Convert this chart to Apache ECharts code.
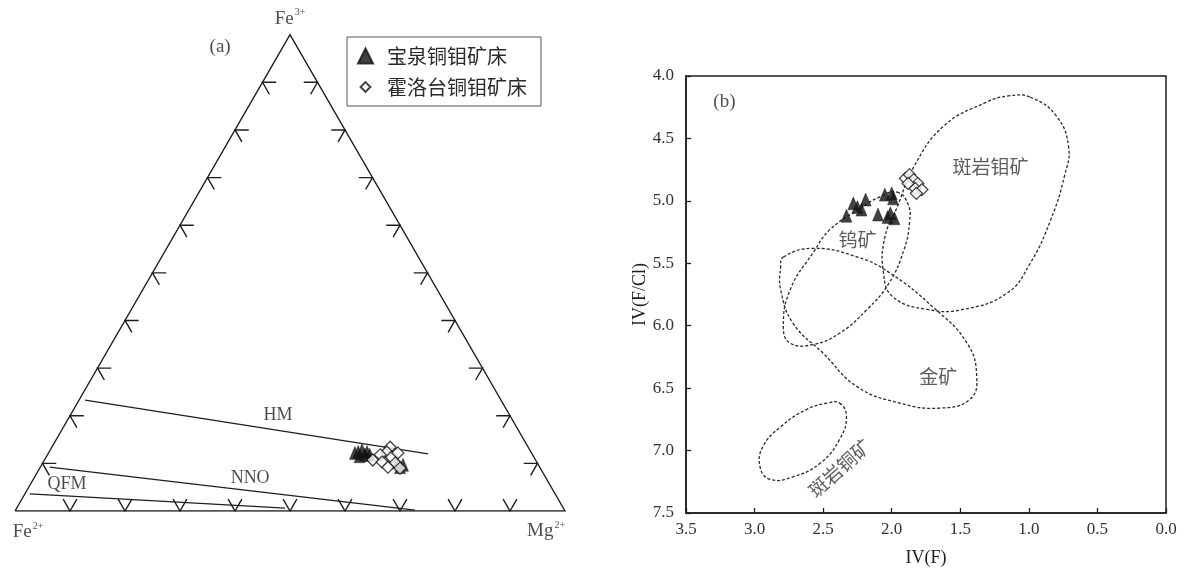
<!DOCTYPE html>
<html>
<head>
<meta charset="utf-8">
<script src="https://cdn.jsdelivr.net/npm/echarts@6/dist/echarts.min.js"></script>
<style>
  html, body { margin: 0; padding: 0; background: #ffffff; }
  #chart { width: 1190px; height: 574px; }
</style>
</head>
<body>
<div id="chart"></div>
<script>
// ---------- Panel (a): Fe3+ - Fe2+ - Mg2+ ternary (values in percent) ----------
const seriesNames = ['宝泉铜钼矿床', '霍洛台铜钼矿床'];

// [Fe3+, Fe2+, Mg2+]
const baoquanTernary = [
  [12.2, 32.1, 55.7], [12.4, 31.4, 56.2], [12.8, 30.5, 56.7], [12.4, 29.8, 57.8],
  [11.8, 30.5, 57.7], [11.8, 29.6, 58.6], [11.5, 31.6, 56.9], [10.3, 25.4, 64.3],
  [9.7, 24.6, 65.7], [9.2, 25.4, 65.4]
];
const huoluotaiTernary = [
  [13.4, 25.1, 61.5], [12.4, 26.2, 61.4], [11.8, 27.7, 60.5], [10.7, 29.6, 59.7],
  [10.3, 28.1, 61.6], [11.3, 25.9, 62.8], [12.2, 24.3, 63.5], [10.1, 25.8, 64.1],
  [9.0, 25.5, 65.5], [9.2, 27.6, 63.2]
];

// oxygen buffer lines, end points [Fe3+, Fe2+, Mg2+]
const bufferNames = ['HM', 'NNO', 'QFM'];
const bufferLines = [
  [[23.3, 75.6, 1.1], [12.0, 18.9, 69.1]],
  [[9.2, 89.1, 1.7], [0.2, 27.2, 72.6]],
  [[3.6, 95.5, 0.9], [0.6, 50.6, 48.8]]
];
const bufferLabelAt = [[20.0, 42.2, 37.8], [6.9, 53.8, 39.3], [5.7, 87.7, 6.6]];

// tick positions along each edge (percent)
const edgeTicks = [10, 20, 30, 40, 50, 60, 70, 80, 90];

// ---------- Panel (b): IV(F) vs IV(F/Cl) ----------
// [IV(F), IV(F/Cl)]
const baoquanIV = [
  [2.33, 5.12], [2.28, 5.02], [2.25, 5.05], [2.19, 4.99], [2.22, 5.07], [2.05, 4.95],
  [2.00, 4.94], [1.99, 4.98], [2.10, 5.11], [2.03, 5.13], [1.98, 5.14], [2.01, 5.10]
];
const huoluotaiIV = [
  [1.90, 4.82], [1.87, 4.79], [1.84, 4.83], [1.81, 4.86], [1.83, 4.90],
  [1.78, 4.91], [1.88, 4.86], [1.82, 4.94]
];

// ore-type fields, boundary points [IV(F), IV(F/Cl)]
const fieldPorphyryMo = [
  [0.99, 4.17], [0.80, 4.32], [0.71, 4.57], [0.74, 4.80], [0.84, 5.15], [0.99, 5.50],
  [1.16, 5.74], [1.48, 5.87], [1.74, 5.87], [1.99, 5.77], [2.06, 5.58], [2.05, 5.29],
  [1.96, 5.05], [1.84, 4.73], [1.62, 4.40], [1.31, 4.21], [1.15, 4.16]
];
const fieldTungsten = [
  [1.96, 4.93], [1.88, 5.03], [1.87, 5.17], [1.91, 5.39], [2.02, 5.66], [2.18, 5.87],
  [2.38, 6.06], [2.57, 6.15], [2.74, 6.14], [2.79, 6.01], [2.74, 5.71], [2.57, 5.41],
  [2.45, 5.23], [2.23, 5.06], [2.09, 4.97]
];
const fieldGold = [
  [2.79, 5.45], [2.57, 5.38], [2.25, 5.45], [2.01, 5.58], [1.70, 5.85], [1.45, 6.14],
  [1.38, 6.41], [1.43, 6.59], [1.65, 6.66], [1.94, 6.62], [2.25, 6.49], [2.50, 6.22],
  [2.72, 5.98], [2.81, 5.71], [2.81, 5.53]
];
const fieldPorphyryCu = [
  [2.38, 6.62], [2.33, 6.73], [2.38, 6.91], [2.52, 7.10], [2.72, 7.21], [2.89, 7.23],
  [2.96, 7.13], [2.94, 6.97], [2.81, 6.81], [2.62, 6.67], [2.47, 6.62]
];
const fieldNames = ['斑岩钼矿', '钨矿', '金矿', '斑岩铜矿'];
const fieldLabelAt = [[1.28, 4.73], [2.25, 5.31], [1.66, 6.41], [2.38, 7.14]];

const xTicksB = ['3.5', '3.0', '2.5', '2.0', '1.5', '1.0', '0.5', '0.0'];
const yTicksB = ['4.0', '4.5', '5.0', '5.5', '6.0', '6.5', '7.0', '7.5'];

// ---------- helpers ----------
const SQ3 = Math.sqrt(3) / 2;
function tern(c) {
  const s = c[0] + c[1] + c[2];
  const a = c[0] / s, m = c[2] / s;
  return [m + a / 2, a * SQ3];
}
const INK = '#1e1e1e';
const SERIF = "'Liberation Serif', 'Times New Roman', 'Noto Sans CJK SC', serif";
const CJK = "'Noto Sans CJK SC', 'Liberation Serif', sans-serif";

// edge ticks, each a small two-armed mark pointing into the triangle
const ARM = 0.025;
const tickSegments = [];
edgeTicks.forEach(function (p) {
  const t = p / 100;
  // bottom edge
  let P = [t, 0];
  tickSegments.push([[P[0] - ARM * 0.5, ARM * SQ3], P, [P[0] + ARM * 0.5, ARM * SQ3]]);
  // left edge
  P = [t / 2, t * SQ3];
  tickSegments.push([[P[0] + ARM, P[1]], P, [P[0] + ARM * 0.5, P[1] - ARM * SQ3]]);
  // right edge
  P = [1 - t / 2, t * SQ3];
  tickSegments.push([[P[0] - ARM, P[1]], P, [P[0] - ARM * 0.5, P[1] - ARM * SQ3]]);
});

const triangleFrame = [[0, 0], [1, 0], [0.5, SQ3], [0, 0]];

function fieldSeries(pts) {
  return {
    type: 'custom', xAxisIndex: 1, yAxisIndex: 1, silent: true, z: 1,
    data: [pts[0]],
    renderItem: function (params, api) {
      return {
        type: 'polygon',
        shape: { points: pts.map(function (p) { return api.coord(p); }), smooth: 0.45 },
        style: { fill: 'none', stroke: '#2a2a2a', lineWidth: 1.3, lineDash: [3, 2] }
      };
    }
  };
}

const vertexRich = {
  b: { fontFamily: SERIF, fontSize: 19, color: INK },
  s: { fontFamily: SERIF, fontSize: 10, color: INK, verticalAlign: 'top', lineHeight: 22, padding: [0, 0, 0, 1] }
};

const chart = echarts.init(document.getElementById('chart'), null, { renderer: 'canvas' });

const axisLineStyle = { show: true, onZero: false, lineStyle: { color: INK, width: 1.5 } };
const axisTickStyle = { show: true, inside: true, length: 5, lineStyle: { color: INK, width: 1.3 } };

const option = {
  backgroundColor: '#ffffff',
  animation: false,
  legend: {
    left: 347, top: 37,
    orient: 'vertical',
    data: [
      { name: seriesNames[0], icon: 'triangle' },
      { name: seriesNames[1], icon: 'path://M0,0M20,20M10,3.5L16.5,10L10,16.5L3.5,10Z' }
    ],
    itemWidth: 15, itemHeight: 15, itemGap: 11,
    padding: [9, 14, 9, 10],
    borderColor: '#555', borderWidth: 1,
    textStyle: { fontFamily: CJK, fontSize: 20, color: '#2a2a2a', padding: [0, 0, 0, 9] }
  },
  grid: [
    { left: 15, width: 550, top: 27, height: 484, show: false },
    { left: 686, top: 76, right: 24, bottom: 61, show: true, borderColor: INK, borderWidth: 1.5, outerBoundsMode: 'none' }
  ],
  xAxis: [
    { gridIndex: 0, type: 'value', min: 0, max: 1, show: false },
    {
      gridIndex: 1, type: 'value', inverse: true, min: 0, max: 3.5, interval: 0.5,
      name: 'IV(F)', nameLocation: 'middle', nameGap: 36,
      nameTextStyle: { fontFamily: SERIF, fontSize: 18, color: INK },
      axisLine: axisLineStyle,
      axisTick: axisTickStyle,
      axisLabel: {
        fontFamily: SERIF, fontSize: 17, color: '#333', margin: 8,
        formatter: function (v) { return xTicksB[Math.round((3.5 - v) / 0.5)]; }
      },
      splitLine: { show: false }
    }
  ],
  yAxis: [
    { gridIndex: 0, type: 'value', min: 0, max: 0.88, show: false },
    {
      gridIndex: 1, type: 'value', inverse: true, min: 4, max: 7.5, interval: 0.5,
      position: 'left',
      name: 'IV(F/Cl)', nameLocation: 'middle', nameGap: 17, nameRotate: 90,
      nameTextStyle: { fontFamily: SERIF, fontSize: 18, color: INK },
      axisLine: axisLineStyle,
      axisTick: axisTickStyle,
      axisLabel: {
        fontFamily: SERIF, fontSize: 17, color: '#333', margin: 12,
        formatter: function (v) { return yTicksB[Math.round((v - 4) / 0.5)]; }
      },
      splitLine: { show: false }
    }
  ],
  series: [
    // ----- panel (a) -----
    {
      type: 'lines', coordinateSystem: 'cartesian2d', xAxisIndex: 0, yAxisIndex: 0,
      polyline: true, silent: true, z: 2,
      lineStyle: { color: INK, width: 1.4, opacity: 1 },
      data: [{ coords: triangleFrame }].concat(tickSegments.map(function (s) { return { coords: s }; }))
    },
    {
      type: 'lines', coordinateSystem: 'cartesian2d', xAxisIndex: 0, yAxisIndex: 0,
      silent: true, z: 2,
      lineStyle: { color: INK, width: 1.3, opacity: 1 },
      data: bufferLines.map(function (l) { return { coords: [tern(l[0]), tern(l[1])] }; })
    },
    {
      type: 'scatter', xAxisIndex: 0, yAxisIndex: 0, symbolSize: 0, silent: true, z: 3,
      data: bufferNames.map(function (n, i) { return { name: n, value: tern(bufferLabelAt[i]) }; }),
      label: {
        show: true, position: 'inside', formatter: '{b}',
        fontFamily: SERIF, fontSize: 18, color: INK
      }
    },
    {
      type: 'scatter', xAxisIndex: 0, yAxisIndex: 0, symbolSize: 0, silent: true, z: 3,
      data: [
        { value: [0.5, SQ3], label: { position: 'top', distance: 5, formatter: '{b|Fe}{s|3+}' } },
        { value: [0, 0], label: { position: 'inside', offset: [13, 21], formatter: '{b|Fe}{s|2+}' } },
        { value: [1, 0], label: { position: 'inside', offset: [-19, 20], formatter: '{b|Mg}{s|2+}' } }
      ],
      label: { show: true, rich: vertexRich }
    },
    {
      type: 'scatter', xAxisIndex: 0, yAxisIndex: 0, symbolSize: 0, silent: true, z: 3,
      data: [{ value: [0.373, 0.844] }],
      label: { show: true, position: 'inside', formatter: '(a)', fontFamily: SERIF, fontSize: 19, color: INK }
    },
    {
      name: seriesNames[0], type: 'scatter', xAxisIndex: 0, yAxisIndex: 0, z: 5,
      symbol: 'triangle', symbolSize: [11, 13],
      itemStyle: { color: '#111', borderColor: '#111', borderWidth: 0.5 },
      data: baoquanTernary.map(tern)
    },
    {
      name: seriesNames[1], type: 'scatter', xAxisIndex: 0, yAxisIndex: 0, z: 6,
      symbol: 'diamond', symbolSize: 12,
      itemStyle: { color: '#ffffff', borderColor: '#111', borderWidth: 1.3 },
      data: huoluotaiTernary.map(tern)
    },

    // ----- panel (b) -----
    fieldSeries(fieldPorphyryMo),
    fieldSeries(fieldTungsten),
    fieldSeries(fieldGold),
    fieldSeries(fieldPorphyryCu),
    {
      type: 'scatter', xAxisIndex: 1, yAxisIndex: 1, symbolSize: 0, silent: true, z: 3,
      data: fieldNames.map(function (n, i) {
        const item = { name: n, value: fieldLabelAt[i] };
        if (i === 3) item.label = { rotate: 42 };
        return item;
      }),
      label: { show: true, position: 'inside', formatter: '{b}', fontFamily: CJK, fontSize: 19, color: '#333' }
    },
    {
      type: 'scatter', xAxisIndex: 1, yAxisIndex: 1, symbolSize: 0, silent: true, z: 3,
      data: [{ value: [3.22, 4.21] }],
      label: { show: true, position: 'inside', formatter: '(b)', fontFamily: SERIF, fontSize: 19, color: INK }
    },
    {
      name: seriesNames[0], type: 'scatter', xAxisIndex: 1, yAxisIndex: 1, z: 5,
      symbol: 'triangle', symbolSize: [11, 13],
      itemStyle: { color: '#111', borderColor: '#111', borderWidth: 0.5 },
      data: baoquanIV
    },
    {
      name: seriesNames[1], type: 'scatter', xAxisIndex: 1, yAxisIndex: 1, z: 6,
      symbol: 'diamond', symbolSize: 12,
      itemStyle: { color: '#ffffff', borderColor: '#111', borderWidth: 1.3 },
      data: huoluotaiIV
    }
  ]
};

chart.setOption(option);
</script>
</body>
</html>
